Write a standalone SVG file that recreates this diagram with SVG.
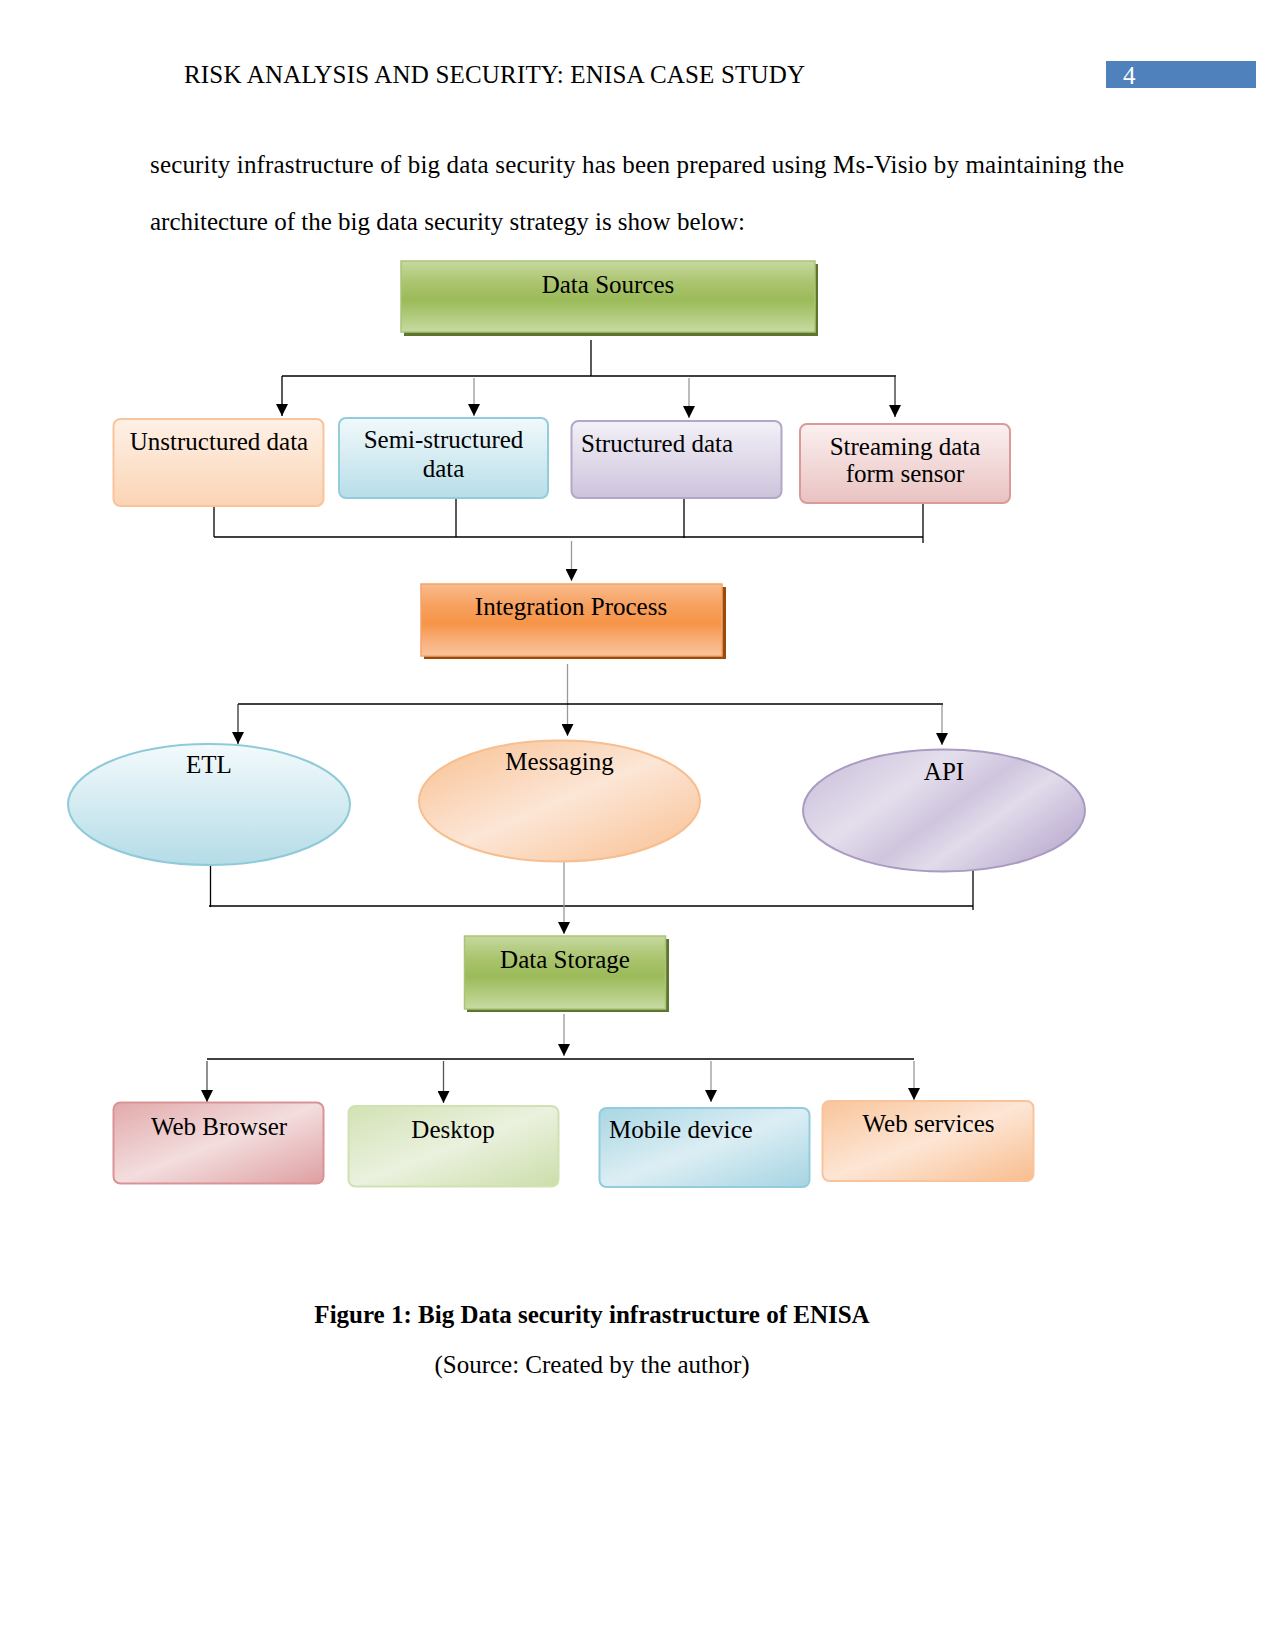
<svg xmlns="http://www.w3.org/2000/svg" width="1275" height="1650" viewBox="0 0 1275 1650">
<style>
text{font-family:"Liberation Serif","Times New Roman",serif;fill:#000;}
.doc{font-size:25px;}
.lbl{font-size:25px;}
.c{text-anchor:middle;}
.ln{stroke:#000;stroke-width:1.3;fill:none;}
.lg{stroke:#999;stroke-width:1.3;fill:none;}
.arr{stroke-width:1.3;fill:none;marker-end:url(#ah);}
</style>
<defs>
<marker id="ah" markerUnits="userSpaceOnUse" markerWidth="12" markerHeight="12" refX="12" refY="6" orient="auto">
<path d="M0,0 L12,6 L0,12 z" fill="#000"/>
</marker>
<linearGradient id="gGreen" x1="0" y1="0" x2="0" y2="1">
<stop offset="0" stop-color="#C5D9A0"/><stop offset="0.3" stop-color="#ABC46F"/><stop offset="0.55" stop-color="#9BBB59"/><stop offset="0.8" stop-color="#B3CC80"/><stop offset="1" stop-color="#C8DBA3"/>
</linearGradient>
<linearGradient id="gOrange" x1="0" y1="0" x2="0" y2="1">
<stop offset="0" stop-color="#F9BC8C"/><stop offset="0.3" stop-color="#F7A060"/><stop offset="0.55" stop-color="#F69547"/><stop offset="0.8" stop-color="#F8B07C"/><stop offset="1" stop-color="#FAC49C"/>
</linearGradient>
<linearGradient id="gPeachV" x1="0" y1="0" x2="0" y2="1">
<stop offset="0" stop-color="#FEF1E6"/><stop offset="1" stop-color="#FBD4B5"/>
</linearGradient>
<linearGradient id="gCyanV" x1="0" y1="0" x2="0" y2="1">
<stop offset="0" stop-color="#F1F9FB"/><stop offset="1" stop-color="#B7DEE8"/>
</linearGradient>
<linearGradient id="gLavV" x1="0" y1="0" x2="0" y2="1">
<stop offset="0" stop-color="#F3F1F7"/><stop offset="1" stop-color="#CDC3DC"/>
</linearGradient>
<linearGradient id="gPinkV" x1="0" y1="0" x2="0" y2="1">
<stop offset="0" stop-color="#FBF0F0"/><stop offset="1" stop-color="#E9C2C1"/>
</linearGradient>
<linearGradient id="gEtl" x1="0" y1="0" x2="0" y2="1">
<stop offset="0" stop-color="#F3FAFC"/><stop offset="1" stop-color="#B4DCE7"/>
</linearGradient>
<linearGradient id="gMsg" x1="0" y1="0" x2="1" y2="1">
<stop offset="0" stop-color="#F9BF90"/><stop offset="0.5" stop-color="#FCE6D6"/><stop offset="1" stop-color="#F9BF90"/>
</linearGradient>
<linearGradient id="gApi" x1="0" y1="0" x2="1" y2="0.6">
<stop offset="0" stop-color="#C6BAD8"/><stop offset="0.4" stop-color="#E4DEEC"/><stop offset="0.6" stop-color="#CFC5DE"/><stop offset="0.75" stop-color="#E1DBEA"/><stop offset="1" stop-color="#C3B6D6"/>
</linearGradient>
<linearGradient id="gWeb" x1="0" y1="0" x2="1" y2="1">
<stop offset="0" stop-color="#E2A9AA"/><stop offset="0.5" stop-color="#F3DDDE"/><stop offset="1" stop-color="#DE9FA1"/>
</linearGradient>
<linearGradient id="gDesk" x1="0" y1="0" x2="1" y2="1">
<stop offset="0" stop-color="#D2E2B4"/><stop offset="0.5" stop-color="#EAF1DE"/><stop offset="1" stop-color="#CCDEAA"/>
</linearGradient>
<linearGradient id="gMob" x1="0" y1="0" x2="1" y2="1">
<stop offset="0" stop-color="#A8D6E3"/><stop offset="0.5" stop-color="#DCEEF4"/><stop offset="1" stop-color="#A5D4E2"/>
</linearGradient>
<linearGradient id="gWs" x1="0" y1="0" x2="1" y2="1">
<stop offset="0" stop-color="#F9C49A"/><stop offset="0.5" stop-color="#FDE6D5"/><stop offset="1" stop-color="#F8BD8E"/>
</linearGradient>
</defs>
<rect width="1275" height="1650" fill="#fff"/>

<g id="header">
<text class="doc" x="184" y="83" textLength="621">RISK ANALYSIS AND SECURITY: ENISA CASE STUDY</text>
<rect x="1106" y="61" width="150" height="27" fill="#4F81BD"/>
<text class="doc" x="1123" y="84" style="fill:#fff">4</text>
</g>
<g id="body">
<text class="doc" x="150" y="173" textLength="974">security infrastructure of big data security has been prepared using Ms-Visio by maintaining the</text>
<text class="doc" x="150" y="230">architecture of the big data security strategy is show below:</text>
</g>

<g id="connectors">
<line class="ln" x1="591" y1="340" x2="591" y2="376"/>
<line class="ln" x1="282" y1="376" x2="896" y2="376"/>
<line class="ln arr" stroke="#000" x1="282" y1="376" x2="282" y2="416"/>
<line class="lg arr" x1="474" y1="378" x2="474" y2="416"/>
<line class="lg arr" x1="689" y1="378" x2="689" y2="418"/>
<line class="arr" stroke="#333" x1="895" y1="376" x2="895" y2="417"/>

<line class="ln" x1="214" y1="500" x2="214" y2="537"/>
<line class="ln" x1="456" y1="498" x2="456" y2="537"/>
<line class="ln" x1="684" y1="498" x2="684" y2="538"/>
<line class="ln" x1="923" y1="503" x2="923" y2="543"/>
<line class="ln" x1="214" y1="537" x2="923" y2="537"/>
<line class="lg arr" x1="571.5" y1="541" x2="571.5" y2="581"/>

<line class="lg arr" x1="567.5" y1="664" x2="567.5" y2="736"/>
<line class="ln" x1="238" y1="704" x2="943" y2="704"/>
<line class="arr" stroke="#333" x1="238" y1="704" x2="238" y2="744"/>
<line class="lg arr" x1="942" y1="705" x2="942" y2="745"/>

<line class="ln" x1="210.5" y1="864" x2="210.5" y2="907"/>
<line class="ln" x1="973" y1="869" x2="973" y2="910"/>
<line class="ln" x1="209" y1="906" x2="973" y2="906"/>
<line class="lg arr" x1="564" y1="862" x2="564" y2="934"/>

<line class="lg arr" x1="564" y1="1014" x2="564" y2="1056"/>
<line class="ln" x1="207" y1="1059" x2="914" y2="1059"/>
<line class="arr" stroke="#555" x1="207" y1="1061" x2="207" y2="1102"/>
<line class="arr" stroke="#555" x1="443.5" y1="1061" x2="443.5" y2="1103"/>
<line class="lg arr" x1="711" y1="1061" x2="711" y2="1102"/>
<line class="lg arr" x1="914" y1="1061" x2="914" y2="1100"/>
</g>

<g id="n-data-sources">
<rect x="404" y="264" width="414" height="72" fill="#5E7530"/>
<rect x="401" y="261" width="414" height="71" fill="url(#gGreen)" stroke="#A9C574" stroke-width="1.5"/>
<text class="lbl c" x="608" y="293">Data Sources</text>
</g>
<g id="n-unstructured">
<rect x="113.5" y="419" width="210" height="87" rx="7" fill="url(#gPeachV)" stroke="#F9C39B" stroke-width="2"/>
<text class="lbl c" x="219" y="450">Unstructured data</text>
</g>
<g id="n-semi">
<rect x="339" y="418" width="209" height="80" rx="7" fill="url(#gCyanV)" stroke="#93CDDD" stroke-width="2"/>
<text class="lbl c" x="443.5" y="448">Semi-structured</text>
<text class="lbl c" x="443.5" y="477">data</text>
</g>
<g id="n-structured">
<rect x="571.5" y="421" width="210" height="77" rx="7" fill="url(#gLavV)" stroke="#B3A6CB" stroke-width="2"/>
<text class="lbl" x="581" y="452">Structured data</text>
</g>
<g id="n-streaming">
<rect x="800" y="424" width="210" height="79" rx="7" fill="url(#gPinkV)" stroke="#DA9A98" stroke-width="2"/>
<text class="lbl c" x="905" y="455">Streaming data</text>
<text class="lbl c" x="905" y="482">form sensor</text>
</g>
<g id="n-integration">
<rect x="424" y="587" width="302" height="72" fill="#9C4A0A"/>
<rect x="421" y="584" width="301" height="72" fill="url(#gOrange)" stroke="#F4A469" stroke-width="1.5"/>
<text class="lbl c" x="571" y="615">Integration Process</text>
</g>
<g id="n-etl">
<ellipse cx="209" cy="804.5" rx="141" ry="60.5" fill="url(#gEtl)" stroke="#8FCAD9" stroke-width="2"/>
<text class="lbl c" x="209" y="773">ETL</text>
</g>
<g id="n-messaging">
<ellipse cx="559.5" cy="801" rx="140.5" ry="60.5" fill="url(#gMsg)" stroke="#F7BE90" stroke-width="2"/>
<text class="lbl c" x="559.5" y="770">Messaging</text>
</g>
<g id="n-api">
<ellipse cx="944" cy="810.5" rx="141" ry="61" fill="url(#gApi)" stroke="#A99BC2" stroke-width="2"/>
<text class="lbl c" x="944" y="780">API</text>
</g>
<g id="n-data-storage">
<rect x="467" y="939" width="202" height="73" fill="#5E7530"/>
<rect x="464.5" y="936" width="201" height="73" fill="url(#gGreen)" stroke="#A9C574" stroke-width="1.5"/>
<text class="lbl c" x="565" y="968">Data Storage</text>
</g>
<g id="n-web-browser">
<rect x="113.5" y="1102.5" width="210" height="81" rx="7" fill="url(#gWeb)" stroke="#D99395" stroke-width="2"/>
<text class="lbl c" x="219" y="1135">Web Browser</text>
</g>
<g id="n-desktop">
<rect x="348.5" y="1106" width="210" height="80.5" rx="7" fill="url(#gDesk)" stroke="#D0E1B2" stroke-width="2"/>
<text class="lbl c" x="453" y="1138">Desktop</text>
</g>
<g id="n-mobile">
<rect x="599.5" y="1108" width="210" height="79" rx="7" fill="url(#gMob)" stroke="#93CDDD" stroke-width="2"/>
<text class="lbl" x="609" y="1138">Mobile device</text>
</g>
<g id="n-web-services">
<rect x="822.5" y="1101" width="211" height="80" rx="7" fill="url(#gWs)" stroke="#F9C39B" stroke-width="2"/>
<text class="lbl c" x="928.5" y="1132">Web services</text>
</g>

<g id="caption">
<text class="doc c" x="592" y="1323" style="font-weight:bold">Figure 1: Big Data security infrastructure of ENISA</text>
<text class="doc c" x="592" y="1373">(Source: Created by the author)</text>
</g>
</svg>
